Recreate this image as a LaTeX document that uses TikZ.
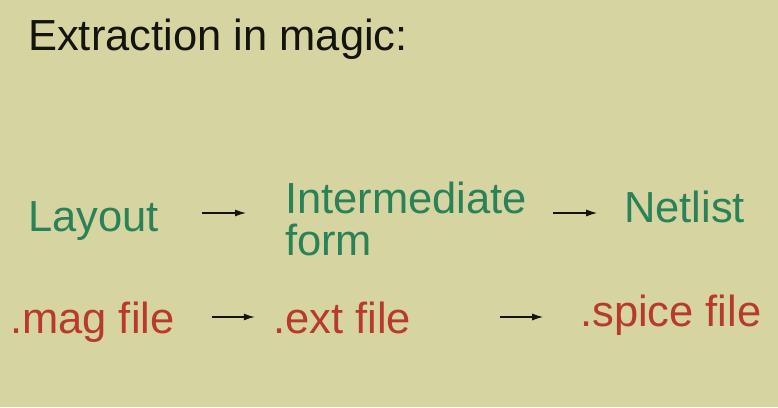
\documentclass[tikz,border=0pt]{standalone}
\usepackage{fontspec}
\setmainfont{Liberation Sans}
\usetikzlibrary{arrows.meta, positioning}

\definecolor{slidebg}{RGB}{214,212,160}
\definecolor{stagegreen}{RGB}{42,130,88}
\definecolor{filered}{RGB}{184,58,44}
\definecolor{titleblack}{RGB}{20,20,15}

\begin{document}
\begin{tikzpicture}[x=1pt, y=-1pt, >={Latex[length=11pt, width=7pt]},
    every node/.style={inner sep=0pt, anchor=base west,
      font=\fontsize{43.5}{42}\selectfont},
    stage/.style={text=stagegreen},
    filename/.style={text=filered},
    flow/.style={->, line width=1.3pt, titleblack}]
  \fill[slidebg] (0,0) rectangle (778,407);

  \node[text=titleblack] at (28,50) (title) {Extraction in magic:};

  % what is produced at each step
  \node[stage] at (28,231) (layout) {Layout};
  \node[stage, align=left] at (285,255) (inter) {Intermediate\\form};
  \node[stage] at (624,222) (netlist) {Netlist};

  % the files that hold it
  \node[filename] at (10,333) (magfile) {.mag file};
  \node[filename] at (273,333) (extfile) {.ext file};
  \node[filename] at (580,326) (spicefile) {.spice file};

  \draw[flow] ([xshift=43pt, yshift=18pt]layout.base east) -- ++(44,0);
  \draw[flow] ([xshift=26pt, yshift=42pt]inter.base east) -- ++(44,0);
  \draw[flow] ([xshift=37pt, yshift=16pt]magfile.base east) -- ++(43,0);
  \draw[flow] ([xshift=89pt, yshift=16pt]extfile.base east) -- ++(43,0);
\end{tikzpicture}
\end{document}
